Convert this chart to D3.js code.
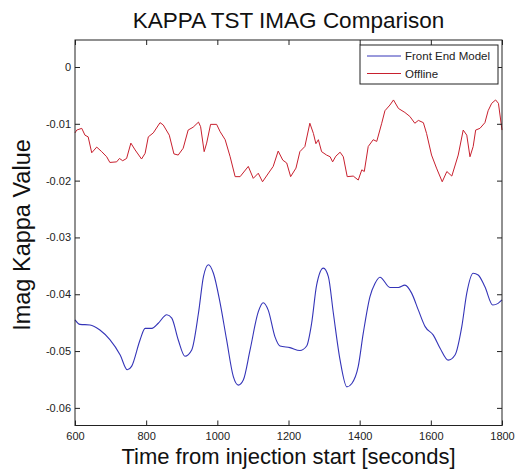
<!DOCTYPE html>
<html>
<head>
<meta charset="utf-8">
<script src="https://cdn.jsdelivr.net/npm/d3@7"></script>
<style>
  html, body { margin: 0; padding: 0; background: #fff; }
  svg { display: block; font-family: "Liberation Sans", Arial, sans-serif; }
</style>
</head>
<body>
<svg id="chart" width="518" height="473"></svg>
<script>
const xTicks = [600, 800, 1000, 1200, 1400, 1600, 1800];
const yTicks = [0, -0.01, -0.02, -0.03, -0.04, -0.05, -0.06];

// Offline (red)
const offlineTime = [600, 605, 619, 628, 637, 647, 661, 675, 689, 698, 717, 725, 734, 745, 757, 769, 787, 797, 806, 820,
  839, 848, 865, 878, 890, 904, 918, 932, 947, 953, 963, 970, 981, 998, 1008, 1022, 1036, 1050, 1064, 1087,
  1101, 1115, 1127, 1148, 1157, 1171, 1184, 1195, 1206, 1221, 1232, 1246, 1260, 1270, 1277, 1284, 1293, 1307, 1317, 1324,
  1333, 1345, 1354, 1365, 1382, 1396, 1406, 1413, 1424, 1438, 1448, 1462, 1471, 1485, 1495, 1509, 1527, 1541, 1555, 1565,
  1579, 1588, 1602, 1616, 1632, 1645, 1659, 1677, 1691, 1701, 1710, 1719, 1726, 1738, 1752, 1761, 1771, 1782, 1790, 1800];
const offlineValue = [-0.0116, -0.0111, -0.0108, -0.0120, -0.0123, -0.0151, -0.0141, -0.0149, -0.0158, -0.0168, -0.0167, -0.0161, -0.0165, -0.0161, -0.0134, -0.0146, -0.0162, -0.0152, -0.0123, -0.0116,
  -0.0098, -0.0102, -0.0120, -0.0153, -0.0155, -0.0143, -0.0111, -0.0106, -0.0097, -0.0105, -0.0149, -0.0134, -0.0101, -0.0101, -0.0114, -0.0128, -0.0158, -0.0193, -0.0193, -0.0175,
  -0.0196, -0.0187, -0.0202, -0.0183, -0.0175, -0.0148, -0.0164, -0.0169, -0.0193, -0.0178, -0.0149, -0.0140, -0.0099, -0.0117, -0.0135, -0.0128, -0.0149, -0.0155, -0.0158, -0.0167,
  -0.0157, -0.0150, -0.0158, -0.0193, -0.0192, -0.0199, -0.0181, -0.0184, -0.0140, -0.0128, -0.0131, -0.0099, -0.0077, -0.0067, -0.0058, -0.0073, -0.0080, -0.0087, -0.0099, -0.0094,
  -0.0098, -0.0117, -0.0155, -0.0178, -0.0202, -0.0184, -0.0192, -0.0155, -0.0111, -0.0120, -0.0158, -0.0140, -0.0111, -0.0108, -0.0098, -0.0077, -0.0064, -0.0058, -0.0064, -0.0111];

// Front End Model (blue)
const modelTime = [600, 614, 642, 670, 698, 727, 747, 759, 783, 797, 816, 834, 858, 872, 890, 909, 928, 947, 961, 975,
  989, 1008, 1026, 1045, 1059, 1073, 1092, 1115, 1129, 1143, 1162, 1176, 1204, 1232, 1251, 1265, 1279, 1298, 1312, 1326,
  1345, 1364, 1378, 1396, 1410, 1429, 1443, 1457, 1485, 1509, 1527, 1546, 1565, 1584, 1607, 1626, 1649, 1668, 1687, 1701,
  1719, 1733, 1752, 1774, 1789, 1800];
const modelValue = [-0.0445, -0.0453, -0.0454, -0.0463, -0.0480, -0.0507, -0.0533, -0.0527, -0.0480, -0.0460, -0.0460, -0.0451, -0.0436, -0.0442, -0.0480, -0.0509, -0.0498, -0.0433, -0.0369, -0.0348,
  -0.0363, -0.0416, -0.0480, -0.0545, -0.0560, -0.0551, -0.0498, -0.0431, -0.0415, -0.0428, -0.0475, -0.0491, -0.0494, -0.0499, -0.0491, -0.0451, -0.0384, -0.0354, -0.0369, -0.0433,
  -0.0516, -0.0563, -0.0557, -0.0527, -0.0469, -0.0404, -0.0381, -0.0370, -0.0388, -0.0388, -0.0384, -0.0398, -0.0428, -0.0457, -0.0472, -0.0495, -0.0516, -0.0507, -0.0457, -0.0398,
  -0.0363, -0.0366, -0.0387, -0.0419, -0.0416, -0.0410];

const m = { top: 40, right: 16, bottom: 47.5, left: 75 };
const W = 518, H = 473;

const svg = d3.select("#chart");

const x = d3.scaleLinear().domain([600, 1800]).range([m.left, W - m.right]);
const y = d3.scaleLinear().domain([-0.0631, 0.00475]).range([H - m.bottom, m.top]);

const offline = offlineTime.map((t, i) => [t, offlineValue[i]]);
const model = modelTime.map((t, i) => [t, modelValue[i]]);

// Lines
svg.append("path").datum(model)
  .attr("fill", "none").attr("stroke", "#3434b8").attr("stroke-width", 1.1)
  .attr("d", d3.line().x(d => x(d[0])).y(d => y(d[1])).curve(d3.curveMonotoneX));

svg.append("path").datum(offline)
  .attr("fill", "none").attr("stroke", "#c8202e").attr("stroke-width", 1)
  .attr("d", d3.line().x(d => x(d[0])).y(d => y(d[1])));

// Axes box with inward ticks
const fmtX = d3.format("d");
const fmtY = d => d === 0 ? "0" : d3.format(".2f")(d).replace("−", "-");
const styleAx = ax => {
  ax.select(".domain").remove();
  ax.selectAll(".tick line").attr("stroke", "#222");
  ax.selectAll(".tick text").style("fill", "#222").style("font-size", "11px");
};

svg.append("g").attr("transform", `translate(0,${H - m.bottom})`)
  .call(d3.axisBottom(x).tickValues(xTicks).tickFormat(fmtX).tickSizeInner(-5).tickPadding(7))
  .call(styleAx);
svg.append("g").attr("transform", `translate(0,${m.top})`)
  .call(d3.axisTop(x).tickValues(xTicks).tickFormat("").tickSizeInner(-5))
  .call(styleAx);
svg.append("g").attr("transform", `translate(${m.left},0)`)
  .call(d3.axisLeft(y).tickValues(yTicks).tickFormat(fmtY).tickSizeInner(-5).tickPadding(4))
  .call(styleAx);
svg.append("g").attr("transform", `translate(${W - m.right},0)`)
  .call(d3.axisRight(y).tickValues(yTicks).tickFormat("").tickSizeInner(-5))
  .call(styleAx);

svg.append("rect")
  .attr("x", m.left).attr("y", m.top)
  .attr("width", W - m.left - m.right).attr("height", H - m.top - m.bottom)
  .attr("fill", "none").attr("stroke", "#222").attr("stroke-width", 1);

// Titles
svg.append("text")
  .attr("x", (m.left + W - m.right) / 2).attr("y", 28)
  .attr("text-anchor", "middle")
  .style("font-size", "22.5px").style("fill", "#111")
  .text("KAPPA TST IMAG Comparison");
svg.append("text")
  .attr("x", (m.left + W - m.right) / 2).attr("y", 464)
  .attr("text-anchor", "middle")
  .style("font-size", "22px").style("fill", "#111")
  .text("Time from injection start [seconds]");
svg.append("text")
  .attr("transform", `translate(30,235) rotate(-90)`)
  .attr("text-anchor", "middle")
  .style("font-size", "23.5px").style("fill", "#111")
  .text("Imag Kappa Value");

// Legend
const leg = svg.append("g").attr("transform", "translate(360,45)");
leg.append("rect").attr("width", 138).attr("height", 39)
  .attr("fill", "#fff").attr("stroke", "#222").attr("stroke-width", 1);
const legItems = [["Front End Model", "#3434b8"], ["Offline", "#c8202e"]];
legItems.forEach(([name, col], i) => {
  const ly = 11 + i * 17.5;
  leg.append("line").attr("x1", 7).attr("x2", 41).attr("y1", ly).attr("y2", ly)
    .attr("stroke", col).attr("stroke-width", 1);
  leg.append("text").attr("x", 45).attr("y", ly).attr("dy", "0.35em")
    .style("font-size", "11.5px").style("fill", "#222").text(name);
});
</script>
</body>
</html>
